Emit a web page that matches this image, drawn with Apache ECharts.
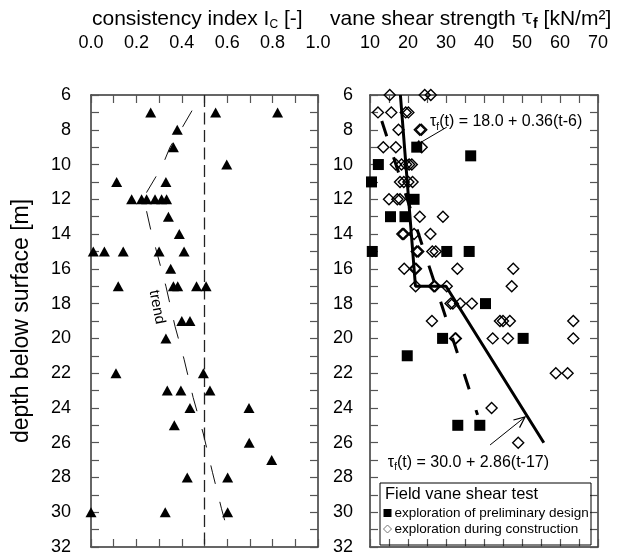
<!DOCTYPE html>
<html>
<head>
<meta charset="utf-8">
<script src="https://cdn.jsdelivr.net/npm/echarts@6/dist/echarts.min.js"></script>
<style>
  html, body { margin: 0; padding: 0; background: #fff; }
  #chart { width: 618px; height: 557px; }
</style>
</head>
<body>
<div id="chart"></div>
<script>
// ---- Left panel: consistency index I_c versus depth ----
const icDepth = [7, 7, 7, 8, 9, 10, 11, 11, 12, 12, 12, 12, 12, 12, 13, 14, 15, 15, 15, 15, 15, 16,
  17, 17, 17, 17, 17, 19, 19, 20, 22, 22, 23, 23, 23, 24, 24, 25, 26, 27, 28, 28, 30, 30, 30];
const icValue = [0.263, 0.549, 0.822, 0.38, 0.363, 0.598, 0.113, 0.33, 0.179, 0.223, 0.245, 0.282, 0.311, 0.333,
  0.341, 0.389, 0.01, 0.059, 0.142, 0.30, 0.41, 0.351, 0.12, 0.363, 0.382, 0.465, 0.507, 0.40, 0.436, 0.33,
  0.11, 0.495, 0.336, 0.396, 0.524, 0.436, 0.696, 0.367, 0.697, 0.796, 0.424, 0.602, 0.0, 0.327, 0.602];

// hand-drawn trend through the I_c profile
const icTrendDepth = [6.9, 7.8, 9.0, 9.7, 10.7, 11.6, 12.1, 12.7, 13.8, 15.3, 17.0, 19.3, 21.2, 23.4, 25.5, 27.7, 29.8, 30.9];
const icTrendValue = [0.445, 0.405, 0.348, 0.326, 0.286, 0.245, 0.238, 0.245, 0.264, 0.295, 0.33, 0.37, 0.41, 0.45, 0.495, 0.535, 0.575, 0.598];

// I_c = 0.5 reference line
const icLimit = 0.5;
const depthRange = [6, 32];

// ---- Right panel: field vane shear strength tau_f versus depth ----
const prelimDepth = [9, 9.5, 10, 11, 12, 13, 13, 15, 15, 15, 18, 20, 20, 21, 25, 25];
const prelimTau = [22.3, 36.5, 12.2, 10.4, 21.6, 15.4, 19.2, 10.6, 30.2, 36.1, 40.4, 29.1, 50.3, 19.8, 33.1, 38.9];

const constrDepth = [6, 6, 6, 7, 7, 7, 7, 8, 8, 8, 9, 9, 9, 10, 10, 10, 10, 10, 11, 11, 11, 11, 12, 12, 12,
  13, 13, 14, 14, 14, 14, 15, 15, 15, 15, 16, 16, 16, 16, 16, 17, 17, 17, 17, 17, 18, 18, 18, 18,
  19, 19, 19, 19, 19, 20, 20, 20, 20, 20, 22, 22, 24, 26];
const constrTau = [15.2, 24.4, 26.0, 12.1, 15.6, 19.4, 20.1, 17.5, 23.1, 23.5, 13.5, 16.8, 23.6, 16.8, 18.3, 19.5, 20.3, 21.0,
  17.9, 18.9, 20.1, 21.2, 15.0, 17.2, 17.9, 23.1, 29.2, 18.5, 18.9, 21.6, 25.9, 22.3, 22.7, 26.4, 27.3,
  19.0, 21.8, 22.1, 33.0, 47.7, 22.0, 26.8, 27.1, 30.2, 47.3, 31.2, 31.8, 33.7, 36.8,
  26.3, 44.2, 45.0, 46.8, 63.5, 32.4, 32.6, 42.3, 46.3, 63.5, 58.9, 62.0, 42.0, 49.0];

// dashed trend of the measured strengths
const vaneTrendDepth = [7.5, 24.4];
const vaneTrendTau = [13.1, 38.3];

// design line: tau_f(t) = 18.0 + 0.36(t-6) down to 17 m, then 30.0 + 2.86(t-17)
const designDepth = [6, 17, 17, 26];
const designTau = [18.0, 21.96, 30.0, 55.74];

const zip = (xs, ys) => xs.map((x, i) => [x, ys[i]]);

const FONT = '"Liberation Sans", Arial, sans-serif';
const frameLine = { color: '#333', width: 1.5 };
const tickStyle = { show: true, inside: true, length: 8, lineStyle: { color: '#555', width: 1.2 } };
const labelBase = { show: true, fontSize: 18, color: '#000', fontFamily: FONT };

function axis(extra) {
  return Object.assign({
    type: 'value',
    axisLine: { show: true, onZero: false, lineStyle: frameLine },
    axisTick: tickStyle,
    splitLine: { show: false },
    axisLabel: { show: false }
  }, extra);
}

const evenTenth = v => (Math.round(v * 10) % 2 === 0 ? v.toFixed(1) : '');
const everyTen = v => (Math.round(v) % 10 === 0 ? String(Math.round(v)) : '');
const evenDepth = v => (Math.round(v) % 2 === 0 ? String(Math.round(v)) : '');

const chart = echarts.init(document.getElementById('chart'));

const option = {
  animation: false,
  backgroundColor: '#fff',
  grid: [
    { left: 91, top: 95, width: 227, height: 452 },
    { left: 370, top: 95, width: 228, height: 452 }
  ],
  xAxis: [
    axis({ gridIndex: 0, position: 'top', min: 0, max: 1, interval: 0.1,
      axisLabel: Object.assign({}, labelBase, { margin: 43, formatter: evenTenth }) }),
    axis({ gridIndex: 0, position: 'bottom', min: 0, max: 1, interval: 0.1 }),
    axis({ gridIndex: 1, position: 'top', min: 10, max: 70, interval: 5,
      axisLabel: Object.assign({}, labelBase, { margin: 43, formatter: everyTen }) }),
    axis({ gridIndex: 1, position: 'bottom', min: 10, max: 70, interval: 5 })
  ],
  yAxis: [
    axis({ gridIndex: 0, position: 'left', min: depthRange[0], max: depthRange[1], interval: 1, inverse: true,
      axisLabel: Object.assign({}, labelBase, { margin: 20, formatter: evenDepth }) }),
    axis({ gridIndex: 0, position: 'right', min: depthRange[0], max: depthRange[1], interval: 1, inverse: true }),
    axis({ gridIndex: 1, position: 'left', min: depthRange[0], max: depthRange[1], interval: 1, inverse: true,
      axisLabel: Object.assign({}, labelBase, { margin: 17, formatter: evenDepth }) }),
    axis({ gridIndex: 1, position: 'right', min: depthRange[0], max: depthRange[1], interval: 1, inverse: true })
  ],
  legend: {
    orient: 'vertical',
    left: 383,
    top: 506,
    padding: 0,
    itemWidth: 8,
    itemHeight: 8,
    itemGap: 2,
    selectedMode: false,
    textStyle: { fontSize: 13.5, fontFamily: FONT, color: '#000', padding: [0, 0, 0, -2] },
    data: [
      { name: 'exploration of preliminary design', icon: 'rect', itemStyle: { color: '#000', opacity: 1 } },
      { name: 'exploration during construction', icon: 'diamond',
        itemStyle: { color: '#fff', borderColor: '#777', borderWidth: 1, opacity: 1 } }
    ]
  },
  series: [
    {
      name: 'Ic limit', type: 'line', xAxisIndex: 0, yAxisIndex: 0, symbol: 'none', z: 1,
      lineStyle: { color: '#222', width: 1.3, type: [12, 5.5] },
      data: depthRange.map(d => [icLimit, d])
    },
    {
      name: 'Ic trend', type: 'line', xAxisIndex: 0, yAxisIndex: 0, symbol: 'none', z: 1,
      lineStyle: { color: '#111', width: 1, type: [19, 18.5] },
      data: zip(icTrendValue, icTrendDepth)
    },
    {
      name: 'consistency index', type: 'scatter', xAxisIndex: 0, yAxisIndex: 0, z: 3,
      symbol: 'triangle', symbolSize: [11, 10],
      itemStyle: { color: '#000', opacity: 1 },
      data: zip(icValue, icDepth)
    },
    {
      name: 'exploration during construction', type: 'scatter', xAxisIndex: 2, yAxisIndex: 2, z: 2,
      symbol: 'diamond', symbolSize: [11, 11],
      itemStyle: { color: 'rgba(255,255,255,0)', borderColor: '#000', borderWidth: 1.4, opacity: 1 },
      data: zip(constrTau, constrDepth)
    },
    {
      name: 'vane trend', type: 'line', xAxisIndex: 2, yAxisIndex: 2, symbol: 'none', z: 3,
      lineStyle: { color: '#000', width: 3, type: [16, 22] },
      data: zip(vaneTrendTau, vaneTrendDepth)
    },
    {
      name: 'design line', type: 'line', xAxisIndex: 2, yAxisIndex: 2, symbol: 'none', z: 3,
      lineStyle: { color: '#000', width: 3 },
      data: zip(designTau, designDepth)
    },
    {
      name: 'exploration of preliminary design', type: 'scatter', xAxisIndex: 2, yAxisIndex: 2, z: 4,
      symbol: 'rect', symbolSize: 11,
      itemStyle: { color: '#000', opacity: 1 },
      data: zip(prelimTau, prelimDepth)
    }
  ]
};

chart.setOption(option);

// ---- annotations placed in data coordinates ----
const px = (seriesIndex, p) => chart.convertToPixel({ seriesIndex: seriesIndex }, p);

function arrow(from, to, headLen, halfAngle, filled) {
  const dx = to[0] - from[0], dy = to[1] - from[1];
  const a = Math.atan2(dy, dx);
  const l = [to[0] - headLen * Math.cos(a - halfAngle), to[1] - headLen * Math.sin(a - halfAngle)];
  const r = [to[0] - headLen * Math.cos(a + halfAngle), to[1] - headLen * Math.sin(a + halfAngle)];
  const items = [{
    type: 'line', z: 50,
    shape: { x1: from[0], y1: from[1], x2: to[0], y2: to[1] },
    style: { stroke: '#000', lineWidth: 1 }
  }];
  if (filled) {
    items.push({ type: 'polygon', z: 50, shape: { points: [to, l, r] }, style: { fill: '#000' } });
  } else {
    items.push({ type: 'polyline', z: 50, shape: { points: [l, to, r] }, style: { stroke: '#000', lineWidth: 1.2, fill: null } });
  }
  return items;
}

const tauRich = {
  t: { fontSize: 16, fontFamily: FONT, fill: '#000', lineHeight: 20 },
  s: { fontSize: 10, fontFamily: FONT, fill: '#000', lineHeight: 12, verticalAlign: 'bottom' }
};

const upperText = px(6, [25.8, 7.55]);
const lowerText = px(6, [14.7, 27.15]);
const trendText = px(2, [0.29, 18.2]);

const graphics = [
  // panel titles
  {
    type: 'text', z: 60,
    style: {
      x: 92, y: 19, align: 'left', verticalAlign: 'middle',
      text: '{n|consistency index I}{s|C}{n| [-]}',
      rich: {
        n: { fontSize: 21, fontFamily: FONT, fill: '#000', lineHeight: 24 },
        s: { fontSize: 12, fontFamily: FONT, fill: '#000', lineHeight: 12, verticalAlign: 'bottom' }
      }
    }
  },
  {
    type: 'text', z: 60,
    style: {
      x: 330, y: 19, align: 'left', verticalAlign: 'middle',
      text: '{n|vane shear strength }{t|τ}{s|f}{n| [kN/m²]}',
      rich: {
        n: { fontSize: 21, fontFamily: FONT, fill: '#000', lineHeight: 24 },
        t: { fontSize: 21, fontFamily: '"DejaVu Serif", serif', fill: '#000', lineHeight: 24 },
        s: { fontSize: 14, fontFamily: FONT, fontWeight: 'bold', fill: '#000', lineHeight: 12, verticalAlign: 'bottom' }
      }
    }
  },
  // depth axis title
  {
    type: 'text', z: 60, x: 22, y: 321, rotation: Math.PI / 2,
    style: {
      x: 0, y: 0, align: 'center', verticalAlign: 'middle',
      text: 'depth below surface [m]', fontSize: 23, fontFamily: FONT, fill: '#000'
    }
  },
  // trend label
  {
    type: 'text', z: 60, x: trendText[0], y: trendText[1], rotation: -1.38,
    style: {
      x: 0, y: 0, align: 'center', verticalAlign: 'middle',
      text: 'trend', fontSize: 15, fontFamily: FONT, fill: '#000'
    }
  },
  // design line equations
  {
    type: 'text', z: 60,
    style: {
      x: upperText[0], y: upperText[1], align: 'left', verticalAlign: 'middle',
      text: '{t|τ}{s|f}{t|(t) = 18.0 + 0.36(t-6)}', rich: tauRich
    }
  },
  {
    type: 'text', z: 60,
    style: {
      x: lowerText[0], y: lowerText[1], align: 'left', verticalAlign: 'middle',
      text: '{t|τ}{s|f}{t|(t) = 30.0 + 2.86(t-17)}', rich: tauRich
    }
  },
  // legend frame and heading
  {
    type: 'rect', z: 40,
    shape: { x: 380, y: 483, width: 211, height: 62 },
    style: { fill: 'rgba(255,255,255,0)', stroke: '#000', lineWidth: 1 }
  },
  {
    type: 'text', z: 60,
    style: {
      x: 385, y: 494, align: 'left', verticalAlign: 'middle',
      text: 'Field vane shear test', fontSize: 16.5, fontFamily: FONT, fill: '#000'
    }
  }
];

arrow(px(6, [30.2, 7.85]), px(6, [21.6, 8.95]), 8, 0.4, true).forEach(g => graphics.push(g));
arrow(px(6, [41.6, 26.13]), px(6, [50.8, 24.52]), 12, 0.42, false).forEach(g => graphics.push(g));

chart.setOption({ graphic: graphics });
</script>
</body>
</html>
